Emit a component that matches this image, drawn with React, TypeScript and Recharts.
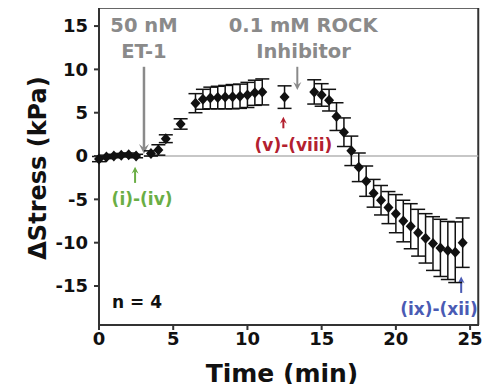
import React from 'react';
import {
  ComposedChart, Scatter, ErrorBar, XAxis, YAxis, ReferenceLine, ReferenceDot, Label,
} from 'recharts';

// time (min), mean stress change (kPa), error (kPa)
const times = [
  0, 0.5, 1, 1.5, 2, 2.5,
  3.5, 4, 4.5, 5.5,
  6.5, 7, 7.5, 8, 8.5, 9, 9.5, 10, 10.5, 11,
  12.5,
  14.5, 15, 15.5, 16, 16.5, 17, 17.5, 18, 18.5, 19, 19.5, 20, 20.5, 21, 21.5, 22, 22.5, 23, 23.5, 24, 24.5,
];
const stress = [
  -0.35, -0.1, 0, 0.1, 0.15, 0,
  0.3, 0.7, 2.0, 3.7,
  6.1, 6.55, 6.7, 6.75, 6.8, 6.85, 6.9, 7.05, 7.3, 7.4,
  6.8,
  7.4, 7.05, 6.45, 4.55, 2.75, 0.6, -1.3, -2.9, -4.3, -5.1, -5.95, -6.65, -7.5, -8.1, -8.85, -9.5, -10.1, -10.6, -10.9, -11.1, -10.0,
];
const errors = [
  0.3, 0.2, 0.2, 0.2, 0.2, 0.2,
  0.3, 0.6, 0.45, 0.6,
  1.1, 1.15, 1.25, 1.3, 1.35, 1.4, 1.4, 1.45, 1.45, 1.5,
  1.3,
  1.4, 1.3, 1.25, 1.6, 1.65, 1.7, 1.65, 1.75, 1.6, 1.7, 1.85, 2.2, 2.4, 2.6, 2.7, 2.85, 3.1, 3.3, 3.35, 3.5, 2.85,
];

const xTicks = [0, 5, 10, 15, 20, 25];
const yTicks = [-15, -10, -5, 0, 5, 10, 15];
const X_MAX = 25.6;
const Y_MIN = -19.5;
const Y_MAX = 17.2;
// frame edges sit a hair inside the domain so they are never dropped
const FRAME_TOP = 17.1;
const FRAME_RIGHT = 25.55;

const GRAY = '#8a8a8a';
const RED = '#b3202f';
const GREEN = '#6aae45';
const BLUE = '#4a5bb4';
const FONT = '"DejaVu Sans", Arial, sans-serif';

const notes = [
  { x: 3.03, y: 14.33, text: '50 nM', color: GRAY, size: 19.5 },
  { x: 3.03, y: 11.33, text: 'ET-1', color: GRAY, size: 19.5 },
  { x: 13.75, y: 14.33, text: '0.1 mM ROCK', color: GRAY, size: 19.5 },
  { x: 13.78, y: 11.33, text: 'Inhibitor', color: GRAY, size: 19.5 },
  { x: 13.1, y: 0.55, text: '(v)-(viii)', color: RED, size: 17 },
  { x: 2.9, y: -5.66, text: '(i)-(iv)', color: GREEN, size: 17 },
  { x: 22.9, y: -18.3, text: '(ix)-(xii)', color: BLUE, size: 17 },
  { x: 2.56, y: -17.57, text: 'n = 4', color: '#111', size: 17 },
];

const arrows = [
  { x: 3.03, from: 10.3, to: 0.23, color: GRAY, head: 10, w: 2.5 },
  { x: 13.36, from: 10.3, to: 7.63, color: GRAY, head: 8, w: 2 },
  { x: 12.42, from: 3.2, to: 4.54, color: RED, head: 7, w: 2 },
  { x: 2.43, from: -3.1, to: -1.24, color: GREEN, head: 7, w: 2 },
  { x: 24.4, from: -15.8, to: -13.9, color: BLUE, head: 7, w: 2 },
];

const data = times.map((t, i) => ({ t, v: stress[i], err: errors[i] }));

const Diamond = (props: any) => {
  const { cx, cy } = props;
  if (cx == null || cy == null) return null;
  return <polygon points={`${cx},${cy - 5.5} ${cx + 5},${cy} ${cx},${cy + 5.5} ${cx - 5},${cy}`} fill="#111" />;
};

const arrowShape = (color: string, head: number, w: number) => (p: any) => {
  const { x1, y1, x2, y2 } = p;
  const dir = y2 > y1 ? 1 : -1;
  const hw = head * 0.5;
  return (
    <g>
      <line x1={x1} y1={y1} x2={x2} y2={y2 - dir * head * 0.6} stroke={color} strokeWidth={w} />
      <polygon
        points={`${x2},${y2} ${x2 - hw},${y2 - dir * head} ${x2},${y2 - dir * head * 0.6} ${x2 + hw},${y2 - dir * head}`}
        fill={color}
      />
    </g>
  );
};

const noteShape = (text: string, color: string, size: number) => (p: any) => (
  <text x={p.cx} y={p.cy} textAnchor="middle" fill={color} fontSize={size} fontWeight="bold" fontFamily={FONT}>
    {text}
  </text>
);

const tickStyle = { fontSize: 18, fontWeight: 'bold' as const, fill: '#111', fontFamily: FONT };
const frameLine = { stroke: '#333', strokeWidth: 2 };

export default function App() {
  return (
    <div style={{ margin: -8, width: 492, height: 392, background: '#fff', overflow: 'hidden' }}>
      <ComposedChart width={492} height={392} data={data} margin={{ top: 7, right: 13, bottom: 0, left: 0 }}>
        <XAxis
          dataKey="t"
          type="number"
          domain={[0, X_MAX]}
          ticks={xTicks}
          height={67}
          tickSize={5}
          tickMargin={2}
          tick={tickStyle}
          axisLine={frameLine}
          tickLine={frameLine}
        >
          <Label
            content={(p: any) => {
              const vb = p.viewBox;
              return (
                <text x={vb.x + vb.width / 2 - 7} y={382} textAnchor="middle" fontSize={25} fontWeight="bold" fill="#111" fontFamily={FONT}>
                  Time (min)
                </text>
              );
            }}
          />
        </XAxis>
        <YAxis
          type="number"
          domain={[Y_MIN, Y_MAX]}
          ticks={yTicks}
          width={99}
          tickSize={5}
          tickMargin={6}
          tick={tickStyle}
          axisLine={frameLine}
          tickLine={frameLine}
        >
          <Label
            content={(p: any) => {
              const vb = p.viewBox;
              const cy = vb.y + vb.height / 2 + 2;
              return (
                <text
                  x={38}
                  y={cy}
                  transform={`rotate(-90, 38, ${cy})`}
                  textAnchor="middle"
                  dominantBaseline="central"
                  fontSize={24}
                  fontWeight="bold"
                  fill="#111"
                  fontFamily={FONT}
                >
                  ΔStress (kPa)
                </text>
              );
            }}
          />
        </YAxis>
        <ReferenceLine y={FRAME_TOP} stroke="#333" strokeWidth={2} />
        <ReferenceLine x={FRAME_RIGHT} stroke="#333" strokeWidth={2} />
        <ReferenceLine segment={[{ x: 3, y: 0 }, { x: FRAME_RIGHT, y: 0 }]} stroke="#b4b4b4" strokeWidth={1.5} />
        {arrows.map((a, i) => (
          <ReferenceLine
            key={`arrow-${i}`}
            segment={[{ x: a.x, y: a.from }, { x: a.x, y: a.to }]}
            shape={arrowShape(a.color, a.head, a.w)}
          />
        ))}
        {notes.map((n, i) => (
          <ReferenceDot key={`note-${i}`} x={n.x} y={n.y} r={0} shape={noteShape(n.text, n.color, n.size)} />
        ))}
        <Scatter dataKey="v" shape={Diamond} isAnimationActive={false}>
          <ErrorBar dataKey="err" direction="y" width={7} stroke="#111" strokeWidth={1.5} />
        </Scatter>
      </ComposedChart>
    </div>
  );
}
